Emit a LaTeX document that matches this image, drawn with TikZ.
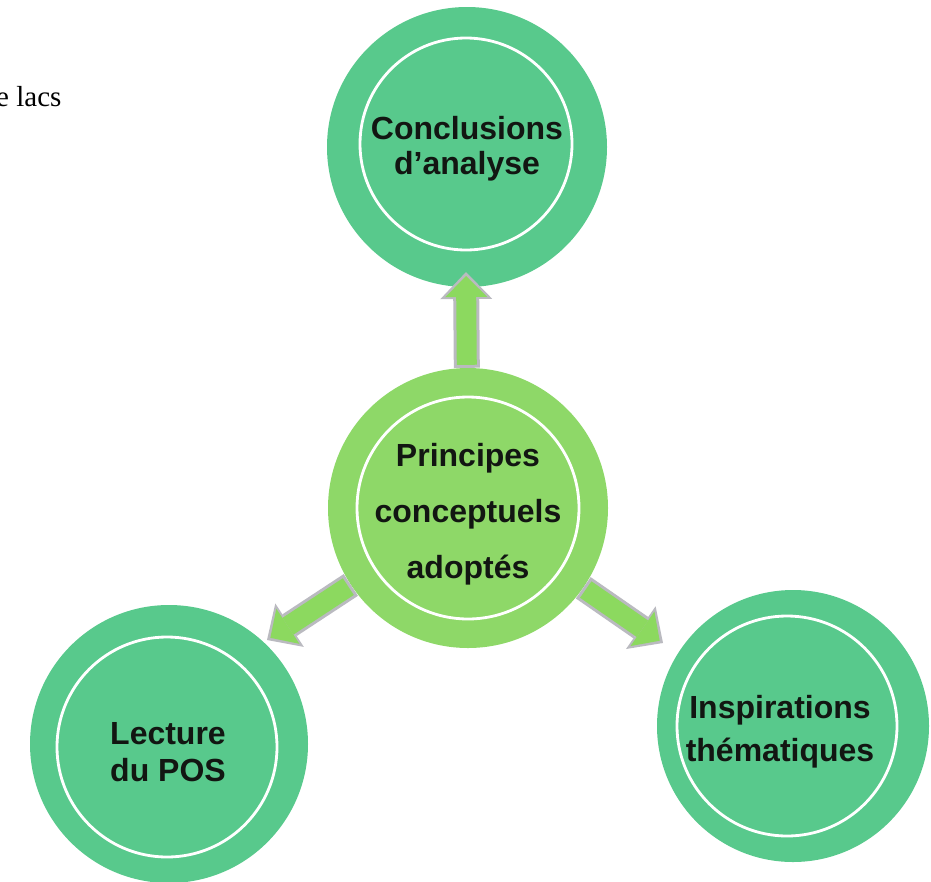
\documentclass[tikz,border=0pt]{standalone}
\usepackage{fontspec}
\setmainfont{Liberation Sans}
\newfontfamily\serifnote{Liberation Serif}
\usetikzlibrary{arrows.meta,calc}
\definecolor{outgreen}{RGB}{88,201,140}
\definecolor{midgreen}{RGB}{142,216,104}
\definecolor{arrgreen}{RGB}{140,217,95}
\definecolor{arrgray}{RGB}{186,186,192}
\definecolor{txt}{RGB}{18,22,18}
\tikzset{
  outer/.style={circle, fill=outgreen, draw=none, inner sep=0pt, minimum size=#1},
  ring/.style={circle, draw=white, line width=2.8pt, fill=none, inner sep=0pt, minimum size=#1},
  label/.style={text=txt, align=center, inner sep=0pt, font=\bfseries\fontsize{32}{#1}\selectfont},
  arrback/.style={draw=arrgray, line width=26pt,
    -{Triangle[length=27pt,width=52pt,line width=0pt]}},
  arrfront/.style={draw=arrgreen, line width=20pt, shorten >=4pt, shorten <=3pt,
    -{Triangle[length=21pt,width=42pt,line width=0pt]}}
}
\begin{document}
\begin{tikzpicture}[x=1pt,y=-1pt]
\useasboundingbox (0,0) rectangle (931,881);
\node[anchor=base west, inner sep=0pt, font=\serifnote\fontsize{29}{32}\selectfont, text=black] (note) at (-4,106) {e lacs};

% outer circles
\node[outer=280pt] (top) at (467,147) {};
\node[outer=278pt] (lft) at (169,744) {};
\node[outer=272pt] (rgt) at (793,726) {};

% arrow free ends
\coordinate (ut) at (466,272);
\coordinate (lt) at (267,640);
\coordinate (rt) at (663,643);

% centre circle
\node[outer=280pt, fill=midgreen] (cen) at (468,508) {};

% arrows
\draw[arrback] (cen) -- (ut);
\draw[arrfront] (cen) -- (ut);
\draw[arrback] (cen) -- (lt);
\draw[arrfront] (cen) -- (lt);
\draw[arrback] (cen) -- (rt);
\draw[arrfront] (cen) -- (rt);

% rings
\node[ring=212pt] (top-r) at (466,144) {};
\node[ring=222pt] (cen-r) at (468,508) {};
\node[ring=220pt] (lft-r) at (167,747) {};
\node[ring=220pt] (rgt-r) at (787,726) {};

% texts
\node[label=35pt] (top-t) at (467,149) {Conclusions\\d’analyse};
\node[label=56pt] (cen-t) at (468,514) {Principes\\conceptuels\\adoptés};
\node[label=37pt] (lft-t) at (168,752) {Lecture\\du POS};
\node[label=43pt] (rgt-t) at (780,732) {Inspirations\\thématiques};
\end{tikzpicture}
\end{document}
